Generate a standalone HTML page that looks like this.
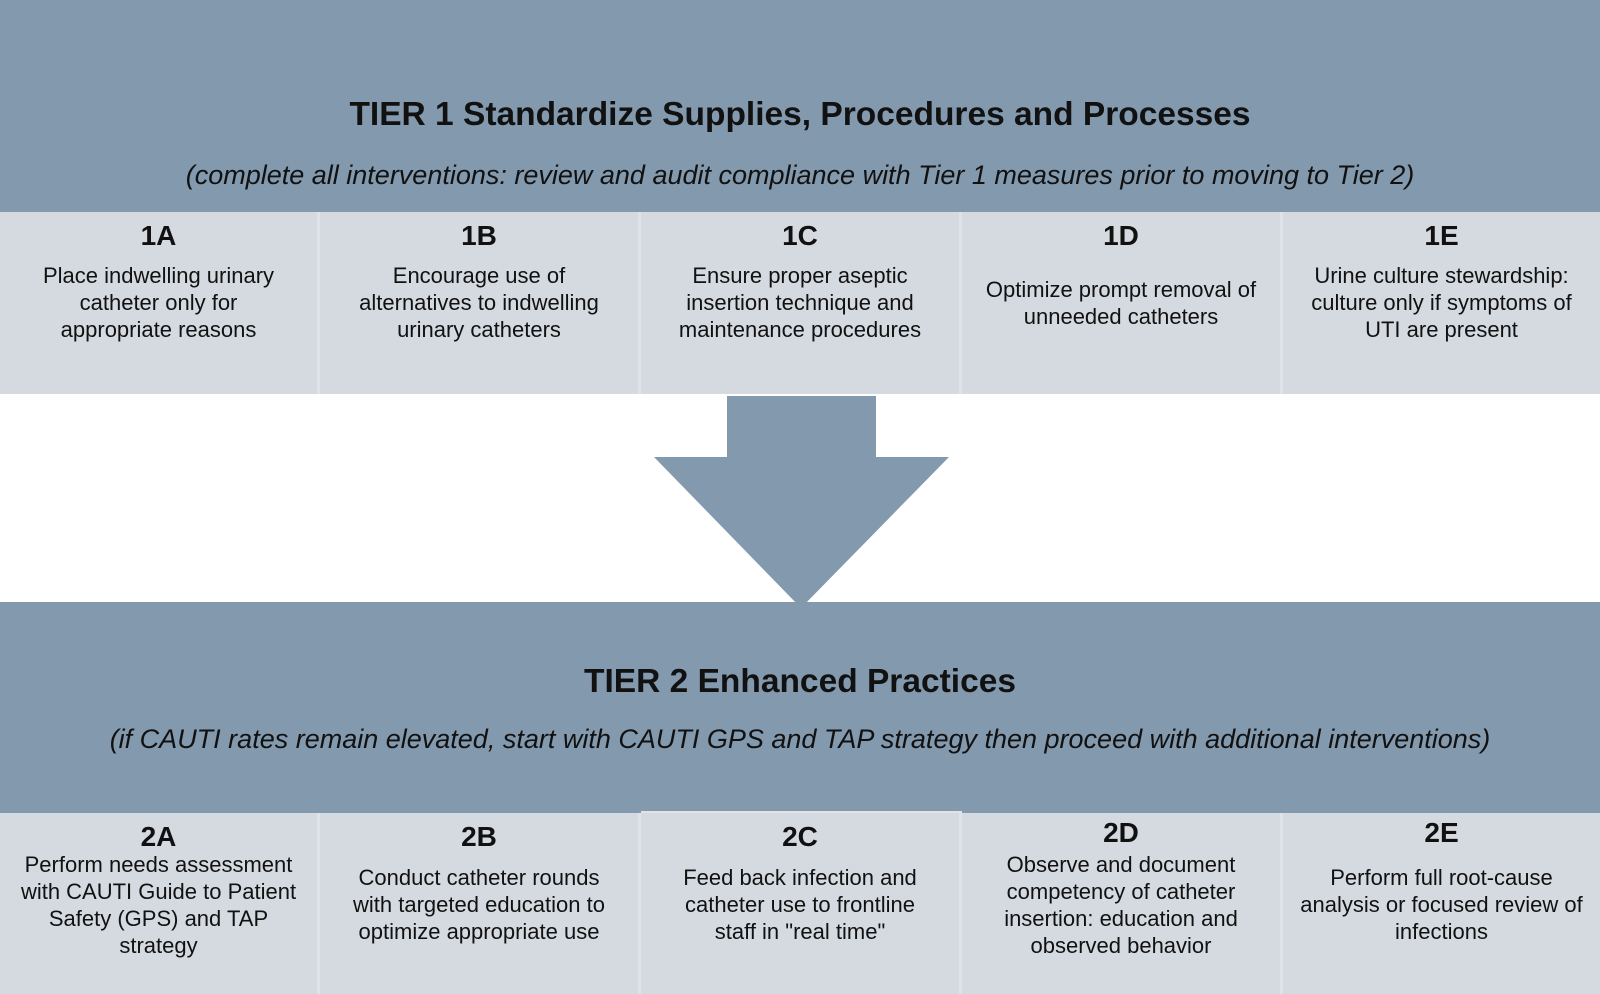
<!DOCTYPE html>
<html><head><meta charset="utf-8"><style>
*{margin:0;padding:0;box-sizing:border-box}
body{width:1600px;height:994px;background:#fff;position:relative;overflow:hidden;font-family:"Liberation Sans",sans-serif;color:#111}
.hdr{position:absolute;left:0;width:1600px;background:#8399ae}
.t{position:absolute;left:0;width:1600px;text-align:center;font-weight:bold;font-size:33.5px}
.s{position:absolute;left:0;width:1600px;text-align:center;font-style:italic;font-size:27px}
.p{position:absolute;background:#d5dae1;text-align:center;border-right:3px solid #dfe2e7}
.p b{display:block;font-size:28px;position:absolute;left:0;right:0}
.p div{position:absolute;left:0;right:0;font-size:22px;line-height:27px;white-space:nowrap}
</style></head><body>
<div class="hdr" style="top:0;height:212px"></div>
<div class="t" style="top:96px">TIER 1 Standardize Supplies, Procedures and Processes</div>
<div class="s" style="top:160px">(complete all interventions: review and audit compliance with Tier 1 measures prior to moving to Tier 2)</div>

<div class="p" style="left:0;top:212px;width:320px;height:182px"><b style="top:8px">1A</b><div style="top:50px">Place indwelling urinary<br>catheter only for<br>appropriate reasons</div></div>
<div class="p" style="left:320px;top:212px;width:321px;height:182px"><b style="top:8px">1B</b><div style="top:50px">Encourage use of<br>alternatives to indwelling<br>urinary catheters</div></div>
<div class="p" style="left:641px;top:212px;width:321px;height:182px"><b style="top:8px">1C</b><div style="top:50px">Ensure proper aseptic<br>insertion technique and<br>maintenance procedures</div></div>
<div class="p" style="left:962px;top:212px;width:321px;height:182px"><b style="top:8px">1D</b><div style="top:64px">Optimize prompt removal of<br>unneeded catheters</div></div>
<div class="p" style="left:1283px;top:212px;width:317px;height:182px;border-right:none"><b style="top:8px">1E</b><div style="top:50px">Urine culture stewardship:<br>culture only if symptoms of<br>UTI are present</div></div>

<div class="hdr" style="top:602px;height:211px"></div>
<svg style="position:absolute;left:0;top:0" width="1600" height="994"><polygon points="727,396 876,396 876,457 949,457 801,608 654,457 727,457" fill="#8399ae"/></svg>
<div class="t" style="top:663px">TIER 2 Enhanced Practices</div>
<div class="s" style="top:724px">(if CAUTI rates remain elevated, start with CAUTI GPS and TAP strategy then proceed with additional interventions)</div>

<div class="p" style="left:0;top:813px;width:320px;height:181px"><b style="top:8px">2A</b><div style="top:38px">Perform needs assessment<br>with CAUTI Guide to Patient<br>Safety (GPS) and TAP<br>strategy</div></div>
<div class="p" style="left:320px;top:813px;width:321px;height:181px"><b style="top:8px">2B</b><div style="top:51px">Conduct catheter rounds<br>with targeted education to<br>optimize appropriate use</div></div>
<div class="p" style="left:641px;top:811px;width:321px;height:183px;border-top:2px solid #dfe2e7"><b style="top:8px">2C</b><div style="top:51px">Feed back infection and<br>catheter use to frontline<br>staff in "real time"</div></div>
<div class="p" style="left:962px;top:813px;width:321px;height:181px"><b style="top:4px">2D</b><div style="top:38px">Observe and document<br>competency of catheter<br>insertion: education and<br>observed behavior</div></div>
<div class="p" style="left:1283px;top:813px;width:317px;height:181px;border-right:none"><b style="top:4px">2E</b><div style="top:51px">Perform full root-cause<br>analysis or focused review of<br>infections</div></div>
</body></html>
